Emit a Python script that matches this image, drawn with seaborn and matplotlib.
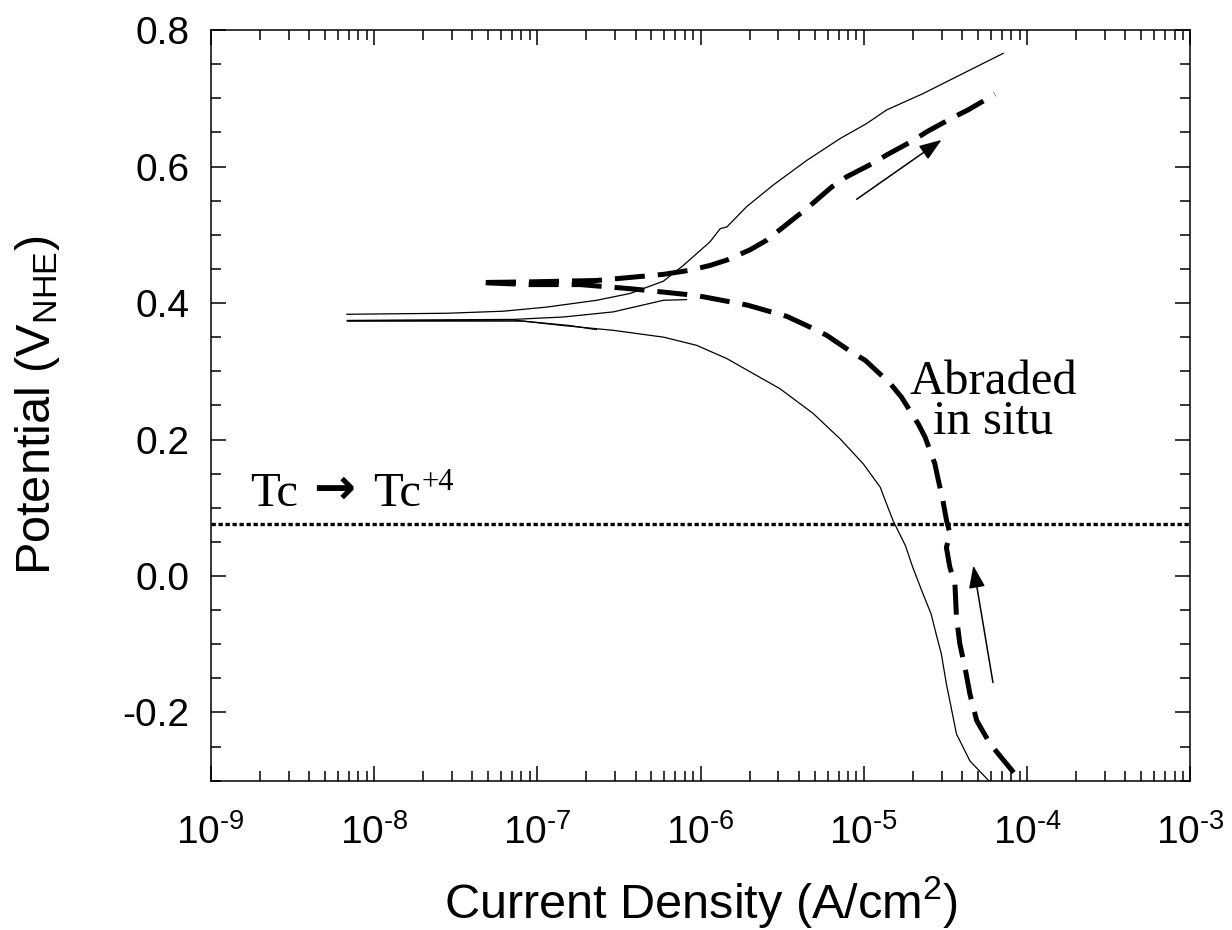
import pandas as pd
import seaborn as sns
import matplotlib.pyplot as plt
from matplotlib.ticker import FixedLocator, FixedFormatter, MultipleLocator, LogLocator, NullFormatter

# solid scan, cathodic branch (from bottom up to Ecorr)
cat_i = [5.93e-5, 4.46e-5, 3.69e-5, 3.36e-5, 3.20e-5, 2.98e-5, 2.77e-5, 2.58e-5,
         2.30e-5, 1.99e-5, 1.80e-5, 1.51e-5, 1.35e-5, 1.26e-5, 9.9e-6, 7.15e-6,
         4.90e-6, 3.06e-6, 1.95e-6, 1.45e-6, 9.46e-7, 5.92e-7, 2.92e-7, 1.44e-7,
         7.13e-8, 6.81e-9]
cat_e = [-0.302, -0.271, -0.2315, -0.183, -0.158, -0.114, -0.085, -0.0555,
         -0.026, 0.013, 0.044, 0.081, 0.111, 0.130, 0.1645, 0.201,
         0.238, 0.2745, 0.301, 0.3185, 0.338, 0.350, 0.360, 0.367,
         0.375, 0.374]

# solid scan, anodic branch
ano_i = [6.81e-9, 2.79e-8, 6.19e-8, 1.14e-7, 2.31e-7, 3.70e-7, 5.92e-7,
         7.83e-7, 1.14e-6, 1.32e-6, 1.45e-6, 1.91e-6, 2.79e-6, 4.47e-6, 7.15e-6,
         1.04e-5, 1.38e-5, 2.31e-5, 3.87e-5, 7.15e-5]
ano_e = [0.3835, 0.385, 0.388, 0.394, 0.404, 0.414, 0.432,
         0.455, 0.4895, 0.509, 0.5115, 0.541, 0.573, 0.609, 0.641,
         0.663, 0.683, 0.707, 0.734, 0.766]

# short second solid scan near Ecorr
short_cat_i = [2.31e-7, 1.58e-7, 8.2e-8, 6.9e-9]
short_cat_e = [0.361, 0.367, 0.3735, 0.3735]
short_ano_i = [6.9e-9, 7.13e-8, 1.44e-7, 2.92e-7, 5.92e-7, 8.22e-7]
short_ano_e = [0.3745, 0.376, 0.3795, 0.387, 0.404, 0.405]

# abraded in situ (dashed)
abr_i = [8.27e-5, 5.93e-5, 4.91e-5, 4.46e-5, 4.16e-5, 3.87e-5, 3.69e-5, 3.61e-5,
         3.36e-5, 3.20e-5, 3.29e-5, 3.37e-5, 3.21e-5, 3.06e-5, 2.86e-5, 2.72e-5,
         2.37e-5, 2.15e-5, 1.70e-5, 1.45e-5, 1.02e-5, 8.41e-6, 5.92e-6, 4.90e-6,
         3.37e-6, 1.93e-6, 9.46e-7, 5.92e-7, 3.70e-7, 1.83e-7, 9.0e-8, 4.42e-8,
         9.0e-8, 2.31e-7, 5.92e-7, 8.6e-7, 1.14e-6, 1.45e-6, 2.01e-6, 2.54e-6,
         3.61e-6, 4.47e-6, 6.35e-6, 7.85e-6, 1.14e-5, 1.38e-5, 2.0e-5, 2.43e-5,
         3.52e-5, 4.35e-5, 6.35e-5]
abr_e = [-0.288, -0.246, -0.212, -0.173, -0.134, -0.0995, -0.0605, -0.0115,
         0.013, 0.042, 0.052, 0.062, 0.081, 0.108, 0.140, 0.1645,
         0.2035, 0.223, 0.262, 0.282, 0.316, 0.328, 0.3527, 0.3625,
         0.3805, 0.397, 0.411, 0.416, 0.421, 0.427, 0.427, 0.430,
         0.431, 0.433, 0.442, 0.448, 0.455, 0.463, 0.478, 0.492,
         0.521, 0.5385, 0.570, 0.585, 0.605, 0.617, 0.638, 0.651,
         0.672, 0.683, 0.706]

tc_potential = 0.076

x_ticks = [1e-9, 1e-8, 1e-7, 1e-6, 1e-5, 1e-4, 1e-3]
x_tick_labels = [r'$\mathregular{10^{\text{-}%d}}$' % n for n in [9, 8, 7, 6, 5, 4, 3]]
y_ticks = [-0.2, 0.0, 0.2, 0.4, 0.6, 0.8]
y_tick_labels = ['-0.2', '0.0', '0.2', '0.4', '0.6', '0.8']

sns.set_style('ticks')
plt.rcParams['font.family'] = ['Liberation Sans', 'DejaVu Sans']
plt.rcParams['mathtext.fontset'] = 'custom'
plt.rcParams['mathtext.rm'] = 'Liberation Sans'
plt.rcParams['axes.unicode_minus'] = False
plt.rcParams['text.color'] = 'k'
plt.rcParams['axes.labelcolor'] = 'k'

fig = plt.figure(figsize=(12.32, 9.3), dpi=100)
ax = fig.add_axes([0.171, 0.1605, 0.7953, 0.8072])

thin = dict(sort=False, estimator=None, color='k', lw=0.9, ax=ax)
sns.lineplot(x=cat_i, y=cat_e, **thin)
sns.lineplot(x=ano_i, y=ano_e, **thin)
sns.lineplot(x=short_cat_i, y=short_cat_e, **thin)
sns.lineplot(x=short_ano_i, y=short_ano_e, **thin)
abraded = pd.DataFrame({'i': abr_i, 'E': abr_e})
sns.lineplot(data=abraded, x='i', y='E', sort=False, estimator=None, color='k', lw=3.6,
             linestyle=(0, (6, 2.6)), ax=ax)
ax.axhline(tc_potential, color='k', lw=2.4, linestyle=(0, (1.3, 0.8)))

# scan direction arrows
arrow_style = dict(arrowstyle='-|>,head_length=0.55,head_width=0.2', color='k', lw=1.1,
                   mutation_scale=25, shrinkA=0, shrinkB=0)
ax.annotate('', xy=(2.99e-5, 0.639), xytext=(9.03e-6, 0.552), arrowprops=arrow_style)
ax.annotate('', xy=(4.68e-5, 0.0153), xytext=(6.17e-5, -0.156), arrowprops=arrow_style)

serif = ['Liberation Serif', 'DejaVu Serif']
ax.text(6.18e-5, 0.267, 'Abraded', family=serif, fontsize=35, ha='center', va='baseline')
ax.text(6.18e-5, 0.2085, 'in situ', family=serif, fontsize=35, ha='center', va='baseline')
ax.text(1.74e-9, 0.1033, 'Tc', family=serif, fontsize=35, ha='left', va='baseline')
ax.text(4.25e-9, 0.127, '\u2192', family='DejaVu Sans', fontweight='bold', fontsize=36,
        ha='left', va='center')
ax.text(9.91e-9, 0.1033, 'Tc', family=serif, fontsize=35, ha='left', va='baseline')
ax.text(1.96e-8, 0.1253, '+4', family=serif, fontsize=22, ha='left', va='baseline')

ax.set_xscale('log')
ax.set_xlim(1e-9, 1e-3)
ax.set_ylim(-0.3, 0.8)
ax.xaxis.set_major_locator(FixedLocator(x_ticks))
ax.xaxis.set_major_formatter(FixedFormatter(x_tick_labels))
ax.xaxis.set_minor_locator(LogLocator(base=10, subs=range(2, 10), numticks=20))
ax.xaxis.set_minor_formatter(NullFormatter())
ax.yaxis.set_major_locator(FixedLocator(y_ticks))
ax.yaxis.set_major_formatter(FixedFormatter(y_tick_labels))
ax.yaxis.set_minor_locator(MultipleLocator(0.05))

ax.tick_params(which='both', direction='in', top=True, right=True, width=1.1,
               color='k', labelcolor='k')
ax.tick_params(which='major', length=11, labelsize=28)
ax.tick_params(axis='x', which='major', pad=24)
ax.tick_params(axis='y', which='major', pad=15)
ax.tick_params(which='minor', length=7.5)
for sp in ax.spines.values():
    sp.set_linewidth(1.1)
    sp.set_color('k')

ax.set_xlabel(r'Current Density (A/cm$\mathregular{^2}$)', fontsize=35, labelpad=16, color='k')
ax.set_ylabel(r'Potential (V$\mathregular{_{NHE}}$)', fontsize=35, labelpad=44, color='k')

fig.savefig('out.png', dpi=100)
